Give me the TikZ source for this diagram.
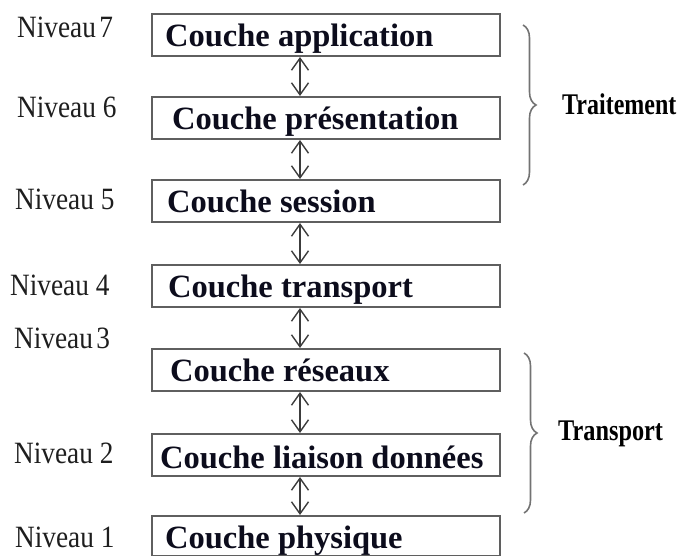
\documentclass[tikz,border=0pt]{standalone}
\usepackage{fontspec}
\setmainfont{Liberation Serif}
\usetikzlibrary{arrows.meta,decorations.pathreplacing}

\definecolor{boxline}{RGB}{95,95,95}
\definecolor{arrowline}{RGB}{60,60,60}
\definecolor{braceline}{RGB}{115,115,115}
\definecolor{labelink}{RGB}{30,30,30}
\definecolor{layerink}{RGB}{12,12,28}

\newcommand{\narrow}[1]{\scalebox{0.88}[1]{#1}}

\tikzset{
  layerbox/.style={draw=boxline, line width=2pt, fill=white, anchor=north west,
    minimum width=348pt, minimum height=42pt, inner sep=0pt},
  layertext/.style={anchor=base west, inner sep=0pt, text=layerink,
    font=\fontsize{32.5}{34}\selectfont\bfseries},
  levellabel/.style={anchor=base west, inner sep=0pt, text=labelink,
    font=\fontsize{31}{33}\selectfont},
  grouplabel/.style={anchor=west, inner sep=0pt, text=black,
    font=\fontsize{30}{32}\selectfont\bfseries},
  link/.style={draw=arrowline, line width=1.4pt,
    {Straight Barb[length=12pt,width=17pt]}-{Straight Barb[length=12pt,width=17pt]}},
  groupbrace/.style={draw=braceline, line width=1.6pt,
    decorate, decoration={brace, amplitude=13pt}},
}

\begin{document}
\begin{tikzpicture}[x=1pt, y=-1pt]
\useasboundingbox (0,0) rectangle (681,556);

% the seven layers
\node[layerbox] (b7) at (151,13)  {};
\node[layerbox] (b6) at (151,96)  {};
\node[layerbox] (b5) at (151,179) {};
\node[layerbox] (b4) at (151,264) {};
\node[layerbox] (b3) at (151,348) {};
\node[layerbox] (b2) at (151,433) {};
\node[layerbox, minimum height=40pt] (b1) at (151,515) {};

\node[layertext] (t7) at (165,47)  {Couche application};
\node[layertext] (t6) at (172,130) {Couche présentation};
\node[layertext] (t5) at (167,213) {Couche session};
\node[layertext] (t4) at (168,298) {Couche transport};
\node[layertext] (t3) at (170,382) {Couche réseaux};
\node[layertext] (t2) at (160,468) {Couche liaison données};
\node[layertext] (t1) at (165,548) {Couche physique};

% level numbers
\node[levellabel] (n7) at (17,38)  {\narrow{Niveau\hspace{-4pt} 7}};
\node[levellabel] (n6) at (17,118) {\narrow{Niveau 6}};
\node[levellabel] (n5) at (15,210) {\narrow{Niveau 5}};
\node[levellabel] (n4) at (10,296) {\narrow{Niveau 4}};
\node[levellabel] (n3) at (14,349) {\narrow{Niveau\hspace{-4pt} 3}};
\node[levellabel] (n2) at (14,464) {\narrow{Niveau 2}};
\node[levellabel] (n1) at (15,547) {\narrow{Niveau 1}};

% links between neighbouring layers
\coordinate (x) at (300,0);
\draw[link] (b7.south -| x) -- (b6.north -| x);
\draw[link] (b6.south -| x) -- (b5.north -| x);
\draw[link] (b5.south -| x) -- (b4.north -| x);
\draw[link] (b4.south -| x) -- (b3.north -| x);
\draw[link] (b3.south -| x) -- (b2.north -| x);
\draw[link] (b2.south -| x) -- (b1.north -| x);

% groups
\coordinate (g1a) at (523,25);
\coordinate (g1b) at (523,185);
\coordinate (g2a) at (524,353);
\coordinate (g2b) at (524,513);
\draw[groupbrace] (g1a) -- (g1b);
\draw[groupbrace] (g2a) -- (g2b);

\node[grouplabel] (traitement) at (562,104) {\scalebox{0.8}[1]{Traitement}};
\node[grouplabel] (transport) at (558,434) {\scalebox{0.81}[1]{Transport}};
\end{tikzpicture}
\end{document}
